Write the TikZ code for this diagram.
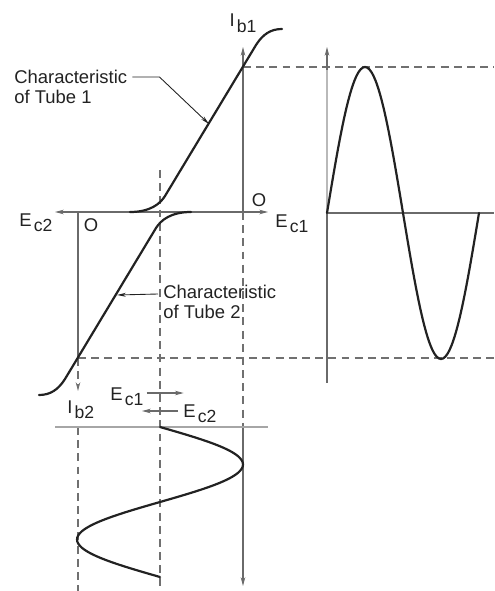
\documentclass[tikz,border=0pt]{standalone}
\usepackage{fontspec}
\setmainfont{Liberation Sans}
\usepackage{xcolor}
\usetikzlibrary{arrows.meta}
\definecolor{ink}{HTML}{222222}
\definecolor{axisgray}{HTML}{6A6A6A}
\definecolor{dashgray}{HTML}{707070}
\newcommand{\lowsub}[1]{\kern1.2pt\raisebox{-0.6ex}{\fontsize{10}{10}\selectfont #1}}
\tikzset{
  curve line/.style={
    line width=1.25pt,
    color=ink,
    line cap=round
  },
  axis line/.style={line width=0.6pt, color=axisgray},
  guide/.style={
    line width=0.65pt, color=dashgray,
    dash pattern=on 4.5pt off 3pt
  },
  label text/.style={
    font=\fontsize{10.5}{11.5}\selectfont,
    inner sep=0pt, text=ink
  },
  leader/.style={
    line width=0.5pt, color=ink,
    -{Stealth[length=5pt,width=2.2pt]}
  }
}

\begin{document}
\begin{tikzpicture}[x=0.02cm, y=-0.02cm, >={Stealth[length=5pt,width=2.6pt]}]
  \useasboundingbox (0,0) rectangle (494,591);

  % Origins
  \coordinate (o1) at (243,212);
  \coordinate (o2) at (78,212);

  % Grid axes of the two tubes
  \draw[axis line, <->] (55,212) -- (268,212);
  \draw[axis line, ->] (o1) -- (243,47);
  \draw[guide] (o1) -- (243,427);
  \draw[axis line, ->] (243,427) -- (243,586);
  \draw[axis line] (o2) -- (78,358);
  \draw[guide, ->] (78,358) -- (78,391);
  \draw[guide] (78,427) -- (78,591);
  \draw[guide] (160,170) -- (160,591);

  % Projection lines
  \draw[guide] (243,67) -- (494,67);
  \draw[guide] (78,358) -- (494,358);

  % Characteristics
  \draw[curve line] (130,212) .. controls (150,212) and (160,204) .. (165,196)
    -- (256,45) .. controls (263,34) and (271,29) .. (282,29);
  \draw[curve line] (191,212) .. controls (171,212) and (161,220) .. (156,228)
    -- (65,379) .. controls (58,390) and (50,395) .. (39,395);

  % Plate current wave
  \draw[axis line, color=gray!55] (327,213) -- (327,60);
  \draw[axis line, ->] (327,70) -- (327,47);
  \draw[axis line] (327,213) -- (327,383);
  \draw[axis line] (327,213) -- (494,213);
  \draw[curve line] plot[domain=0:360, samples=73, smooth]
    ({327+\x/360*152}, {213-146*sin(\x)});

  % Grid voltage wave
  \draw[axis line, color=gray!70] (55,427) -- (268,427);
  \draw[curve line] plot[domain=0:360, samples=73, smooth]
    ({160+83*sin(\x)}, {427+\x/360*150});

  % Labels
  \node[label text, anchor=base] (ib1) at (243,27) {I\lowsub{b1}};
  \node[label text, anchor=base] (zero1) at (259,207) {O};
  \node[label text, anchor=base west] (ec1) at (275,227) {E\lowsub{c1}};
  \node[label text, anchor=base west] (ec2) at (19,226) {E\lowsub{c2}};
  \node[label text, anchor=base] (zero2) at (91,231) {O};
  \node[label text, anchor=north west, align=left] (tube1lab) at (14,70)
    {Characteristic\\of Tube 1};
  \node[label text, anchor=north west, align=left] (tube2lab) at (163,285)
    {Characteristic\\of Tube 2};
  \node[label text, anchor=base west] (ib2) at (67,413) {I\lowsub{b2}};
  \node[label text, anchor=base west] (ec1b) at (110,400) {E\lowsub{c1}};
  \node[label text, anchor=base west] (ec2b) at (183,417) {E\lowsub{c2}};

  % Leaders
  \coordinate (tube1pt) at (209,124);
  \coordinate (tube2pt) at (117,295);
  \draw[leader] ([shift={(5,7)}]tube1lab.north east) -- ++(27,0) -- (tube1pt);
  \draw[leader] ([shift={(-5,9)}]tube2lab.north west) -- (tube2pt);
  \draw[axis line, ->] ([shift={(3,-7)}]ec1b.base east) -- ++(37,0);
  \draw[axis line, ->] ([shift={(-5,-6)}]ec2b.base west) -- ++(-36,0);
\end{tikzpicture}
\end{document}
